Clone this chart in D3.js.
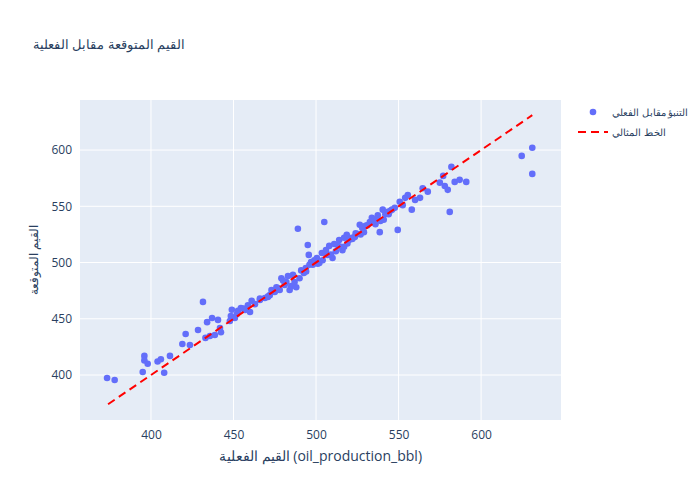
<!DOCTYPE html>
<html><head><meta charset="utf-8">
<script src="https://cdn.jsdelivr.net/npm/d3@7"></script>
<style>body{margin:0;background:#fff}text{font-family:"Open Sans","Noto Sans",sans-serif}</style>
</head><body><div id="chart"></div>
<script>
const actual = [373.4,378,395,396,396,398,404,406,408,411.5,419,421,423.6,428.5,431.5,434,433,435.7,437,438.7,440.6,441.8,442.4,447.8,448.4,449,450.8,452.7,454.5,457,458.7,460,461,463,466,469,470.8,472,473,475,476.9,478,479,481,482,483,484,485,487,489,490,491,492.6,493.8,495,495.6,497,498,499,500.5,502,503.5,505,506,507,508,510,511,513,514,516,517,518.6,520,521.7,523.5,525.3,526.5,528,530,532.6,533.8,535.6,537.4,538.6,540.4,542,543.5,546,547.7,549.5,550.7,552.5,554,555.6,558,560,563,564.6,567.7,575,577,578,579.8,581,582,584,587,591,624.6,631,631,
  480,486,494,499,504,509,512,515,519,522,527,531,536,541,545,488,496,501,506,517,524,529,534,539,544,466,471,476,456,452];
const predicted = [397.3,395.6,402.7,417,413,410,412,414,402,417,427.6,436.5,426.7,440,465,447,433,434.7,450.7,435.6,449,441.8,438,448,452.5,458,450.7,457,459.6,457.8,462,456,466,463,466.7,468.5,469.4,471,475.6,473.8,477.4,475.6,486,480,482.7,488,475.6,479,482.7,530,486,493,490.7,495,515.6,506.8,500.5,498,502,504,499.6,508.5,536,511,506.8,514.8,504,516.5,515.6,520,511,522,524.6,520,522,522.8,525.4,533.5,530.8,532.6,536,539.7,538,542,527,547,543,545,547,548.6,529,554,551,557.5,560,547,555.7,557.5,566,563,571,577,568,564.6,545,585,571.7,573.5,571.7,594.8,602,578.8,
  484,489,492,501,502,507,510,514,517,521,525,533,534,538,546,478,498,499,508,514,526,527,536,537,543,468,470,478,459,454];
const xTicks = [400,450,500,550,600];
const yTicks = [400,450,500,550,600];
const idealRange = [374,631];

const W = 700, H = 500, m = {l:80, r:139, t:100, b:80};
const svg = d3.select("#chart").append("svg").attr("width", W).attr("height", H);
const x = d3.scaleLinear().domain([357,648.4]).range([m.l, W - m.r]);
const y = d3.scaleLinear().domain([360,644.5]).range([H - m.b, m.t]);

svg.append("rect").attr("x", m.l).attr("y", m.t).attr("width", W - m.l - m.r).attr("height", H - m.t - m.b).attr("fill", "#e5ecf6");
svg.append("g").selectAll("line").data(xTicks).join("line")
  .attr("x1", d => x(d)).attr("x2", d => x(d)).attr("y1", m.t).attr("y2", H - m.b).attr("stroke", "#fff");
svg.append("g").selectAll("line").data(yTicks).join("line")
  .attr("y1", d => y(d)).attr("y2", d => y(d)).attr("x1", m.l).attr("x2", W - m.r).attr("stroke", "#fff");

const xa = svg.append("g").attr("transform", `translate(0,${H - m.b})`).call(d3.axisBottom(x).tickValues(xTicks).tickSize(0).tickPadding(10));
const ya = svg.append("g").attr("transform", `translate(${m.l},0)`).call(d3.axisLeft(y).tickValues(yTicks).tickSize(0).tickPadding(8));
[xa, ya].forEach(a => { a.select(".domain").remove(); a.selectAll("text").attr("fill", "#2a3f5f").style("font-size", "12px"); });

svg.append("g").selectAll("circle").data(actual).join("circle")
  .attr("cx", d => x(d)).attr("cy", (d, i) => y(predicted[i])).attr("r", 3.3).attr("fill", "#636efa");

svg.append("line").attr("x1", x(idealRange[0])).attr("y1", y(idealRange[0])).attr("x2", x(idealRange[1])).attr("y2", y(idealRange[1]))
  .attr("stroke", "red").attr("stroke-width", 2).attr("stroke-dasharray", "8,5");

svg.append("text").attr("x", 33).attr("y", 49).attr("fill", "#2a3f5f").style("font-size", "13px").text("القيم المتوقعة مقابل الفعلية");
svg.append("text").attr("x", (m.l + W - m.r) / 2).attr("y", 461).attr("text-anchor", "middle").attr("fill", "#2a3f5f").style("font-size", "14px").text("القيم الفعلية (oil_production_bbl)");
svg.append("text").attr("transform", `translate(38,${(m.t + H - m.b) / 2}) rotate(-90)`).attr("text-anchor", "middle").attr("fill", "#2a3f5f").style("font-size", "12px").text("القيم المتوقعة");

const lg = svg.append("g").attr("transform", "translate(578,112)");
lg.append("circle").attr("cx", 15).attr("cy", 0).attr("r", 3.3).attr("fill", "#636efa");
lg.append("text").attr("x", 34).attr("y", 4).attr("fill", "#2a3f5f").style("font-size", "10px").text("التنبؤ مقابل الفعلي");
lg.append("line").attr("x1", 0).attr("x2", 30).attr("y1", 20).attr("y2", 20).attr("stroke", "red").attr("stroke-width", 2).attr("stroke-dasharray", "8,5");
lg.append("text").attr("x", 34).attr("y", 24).attr("fill", "#2a3f5f").style("font-size", "10px").text("الخط المثالي");
</script></body></html>
